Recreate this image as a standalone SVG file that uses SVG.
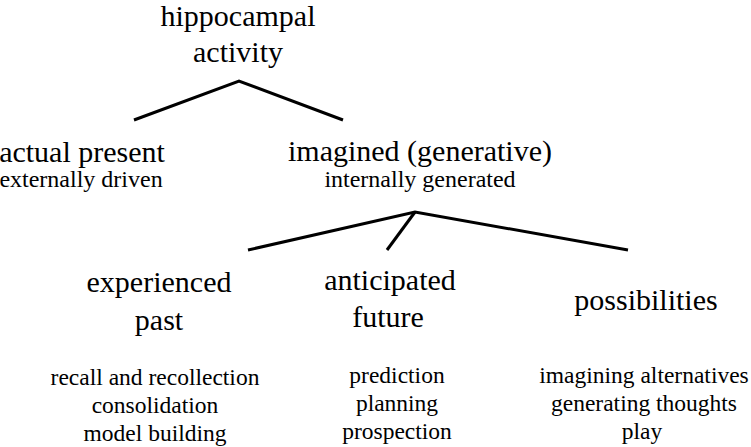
<svg xmlns="http://www.w3.org/2000/svg" width="751" height="447" viewBox="0 0 751 447">
<style>
text{font-family:"Liberation Serif","Times New Roman",serif;fill:#000;text-anchor:middle}
.h{font-size:30px}
.s{font-size:24px}
.b{font-size:23.5px}
.c{fill:none;stroke:#000;stroke-width:3;stroke-linejoin:miter}
</style>
<rect width="751" height="447" fill="#fff"/>
<g id="connectors">
<polyline class="c" points="134,120 239,81 343,120"/>
<polyline class="c" points="248,250 415,212 628,250"/>
<line class="c" x1="415" y1="212" x2="387" y2="250"/>
</g>
<g id="root">
<text class="h" x="238" y="26">hippocampal</text>
<text class="h" x="238" y="62">activity</text>
</g>
<g id="actual">
<text class="h" x="82" y="162">actual present</text>
<text class="s" x="81" y="187">externally driven</text>
</g>
<g id="imagined">
<text class="h" x="420" y="161">imagined (generative)</text>
<text class="s" x="420" y="187">internally generated</text>
</g>
<g id="past">
<text class="h" x="159" y="292">experienced</text>
<text class="h" x="159" y="330">past</text>
<text class="b" x="155" y="385">recall and recollection</text>
<text class="b" x="155" y="413">consolidation</text>
<text class="b" x="155" y="441">model building</text>
</g>
<g id="future">
<text class="h" x="390" y="290">anticipated</text>
<text class="h" x="388" y="327">future</text>
<text class="b" x="397" y="383">prediction</text>
<text class="b" x="397" y="411">planning</text>
<text class="b" x="397" y="439">prospection</text>
</g>
<g id="possibilities">
<text class="h" x="646" y="310">possibilities</text>
<text class="b" x="644" y="383">imagining alternatives</text>
<text class="b" x="644" y="411">generating thoughts</text>
<text class="b" x="642" y="439">play</text>
</g>
</svg>
